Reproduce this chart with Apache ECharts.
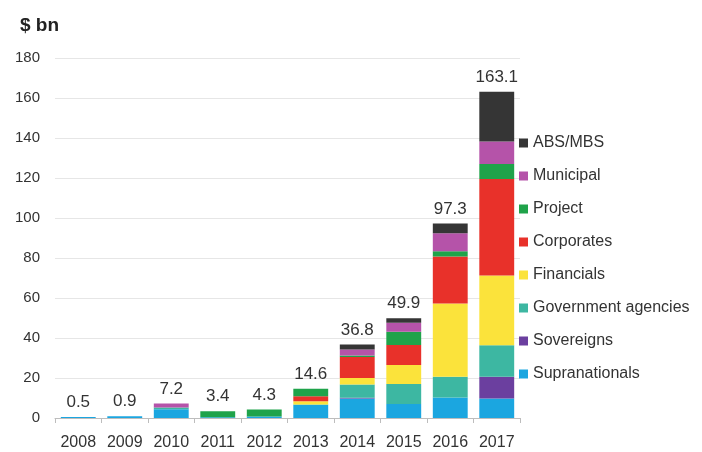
<!DOCTYPE html>
<html>
<head>
<meta charset="utf-8">
<script src="https://cdn.jsdelivr.net/npm/echarts@6/dist/echarts.min.js"></script>
<style>
  html, body { margin: 0; padding: 0; background: #ffffff; }
  #chart { width: 702px; height: 452px; }
</style>
</head>
<body>
<div id="chart"></div>
<script>
// years on the x axis
const years = ['2008', '2009', '2010', '2011', '2012', '2013', '2014', '2015', '2016', '2017']
// totals printed above each bar ($ bn)
const totals = [0.5, 0.9, 7.2, 3.4, 4.3, 14.6, 36.8, 49.9, 97.3, 163.1]

// segments (bottom of the stack first)
const supranationals = [0.5, 0.9, 4.4, 0.4, 0.8, 6.5, 9.8, 7.0, 10.3, 9.8]
const sovereigns     = [0, 0, 0, 0, 0, 0, 0.3, 0, 0, 10.8]
const govAgencies    = [0, 0, 0.8, 0, 0, 0.3, 6.6, 10.0, 10.3, 15.8]
const financials     = [0, 0, 0, 0, 0, 1.6, 3.3, 9.5, 36.6, 34.9]
const corporates     = [0, 0, 0, 0, 0, 2.5, 10.5, 10.0, 23.6, 48.2]
const project        = [0, 0, 0, 3.0, 3.5, 3.7, 0.8, 6.6, 2.6, 7.5]
const municipal      = [0, 0, 2.0, 0, 0, 0, 3.0, 4.5, 9.0, 11.2]
const absMbs         = [0, 0, 0, 0, 0, 0, 2.5, 2.3, 4.9, 24.9]

const yTicks = [0, 20, 40, 60, 80, 100, 120, 140, 160, 180]

const font = 'Liberation Sans, Arial, sans-serif'

const seriesList = [
  { name: 'Supranationals', data: supranationals, color: '#1ba6e0' },
  { name: 'Sovereigns', data: sovereigns, color: '#6b3f9f' },
  { name: 'Government agencies', data: govAgencies, color: '#3db7a2' },
  { name: 'Financials', data: financials, color: '#fbe33b' },
  { name: 'Corporates', data: corporates, color: '#e8312a' },
  { name: 'Project', data: project, color: '#1fa34a' },
  { name: 'Municipal', data: municipal, color: '#b553a9' },
  { name: 'ABS/MBS', data: absMbs, color: '#353535' }
]

const chart = echarts.init(document.getElementById('chart'))

const option = {
  animation: false,
  backgroundColor: '#ffffff',
  textStyle: { fontFamily: font },
  title: {
    text: '$ bn',
    left: 20,
    top: 16,
    padding: 0,
    textStyle: { fontSize: 19, fontWeight: 'bold', color: '#222', fontFamily: font }
  },
  legend: {
    orient: 'vertical',
    left: 519,
    top: 135,
    padding: 0,
    itemWidth: 9,
    itemHeight: 9,
    itemGap: 17,
    icon: 'rect',
    data: seriesList.map(s => s.name).reverse(),
    textStyle: { fontSize: 16, lineHeight: 16, color: '#333', fontFamily: font }
  },
  grid: { left: 55, right: 182, top: 58, bottom: 34 },
  xAxis: {
    type: 'category',
    data: years,
    axisLine: { lineStyle: { color: '#bdbdbd' } },
    axisTick: { show: true, length: 5, lineStyle: { color: '#bdbdbd' } },
    axisLabel: { fontSize: 16, color: '#333', margin: 17 }
  },
  yAxis: {
    type: 'value',
    min: yTicks[0],
    max: yTicks[yTicks.length - 1],
    interval: 20,
    axisLine: { show: false },
    axisTick: { show: false },
    axisLabel: { fontSize: 15, color: '#333', margin: 15 },
    splitLine: { lineStyle: { color: '#e6e6e6' } }
  },
  series: seriesList.map((s, i) => ({
    name: s.name,
    type: 'bar',
    stack: 'total',
    barCategoryGap: '25%',
    data: s.data,
    itemStyle: { color: s.color },
    label: i === seriesList.length - 1 ? {
      show: true,
      position: 'top',
      distance: 6,
      fontSize: 17,
      color: '#333',
      fontFamily: font,
      formatter: p => totals[p.dataIndex].toFixed(1)
    } : { show: false }
  }))
}

option && chart.setOption(option)
</script>
</body>
</html>
